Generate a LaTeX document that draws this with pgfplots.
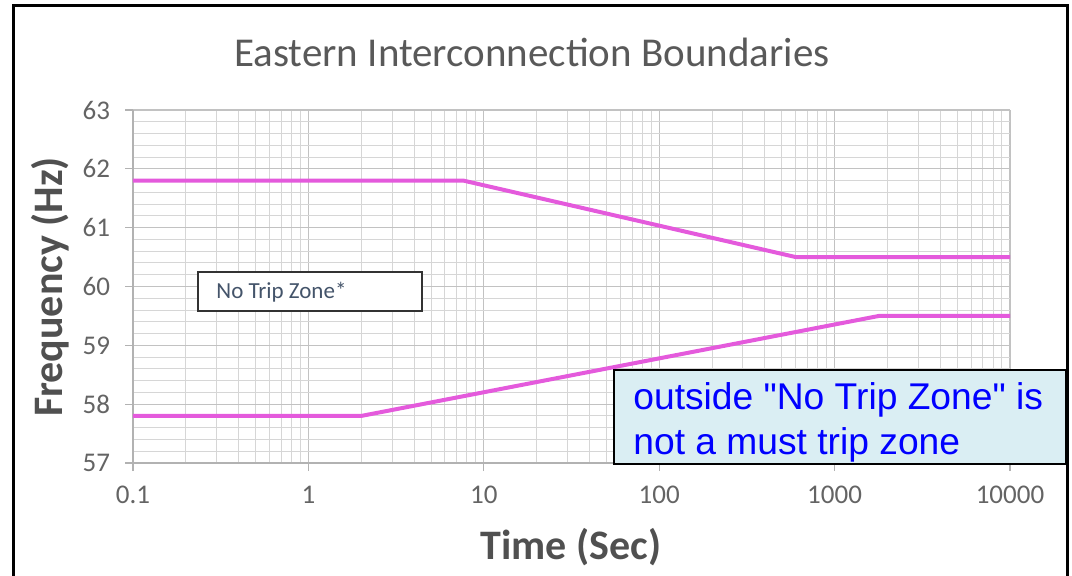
\documentclass[border=0pt]{standalone}
\usepackage{pgfplots}
\pgfplotsset{compat=1.18}
\usepackage{fontspec}
\setmainfont{Carlito}
\newfontfamily\arialfont{Liberation Sans}
\definecolor{tickgray}{RGB}{100,100,100}
\definecolor{labgray}{RGB}{80,80,80}
\definecolor{titlegray}{RGB}{89,89,89}
\definecolor{mag}{RGB}{228,90,220}
\definecolor{boxfill}{RGB}{218,238,243}
\definecolor{notrip}{RGB}{68,84,106}
\begin{document}
\begin{tikzpicture}
\path[use as bounding box] (0,0) rectangle (536pt,287.5pt);
\begin{axis}[
  at={(66.5pt,56pt)}, anchor=south west,
  scale only axis, width=438.5pt, height=176.5pt,
  xmode=log, xmin=0.1, xmax=10000, ymin=57, ymax=63,
  xtick={0.1,1,10,100,1000,10000},
  xticklabels={0.1,1,10,100,1000,10000},
  ytick={57,58,59,60,61,62,63},
  yticklabels={57,58,59,60,61,62,63},
  minor y tick num=4,
  grid=both,
  major grid style={draw=black!24, line width=0.6pt},
  minor grid style={draw=black!16, line width=0.5pt},
  axis x line*=bottom, axis y line*=left,
  axis line style={draw=black!30, -, line width=0.6pt},
  tick align=outside,
  major tick length=4pt, minor tick length=0pt,
  tick style={draw=black!30, line width=0.6pt},
  ticklabel style={font=\fontsize{13.5}{15}\selectfont, text=tickgray},
  xticklabel style={yshift=-4pt},
  yticklabel style={xshift=-4pt},
  clip=false,
]
\addplot[mag, line width=2pt] coordinates {(0.1,61.8) (7.66,61.8) (601,60.5) (10000,60.5)};
\addplot[mag, line width=2pt] coordinates {(0.1,57.8) (2,57.8) (1791,59.5) (10000,59.5)};
\end{axis}
% frame
\draw[line width=1.5pt, black] (6.5pt,-1pt) -- (6.5pt,285pt) -- (533.5pt,285pt) -- (533.5pt,-1pt);
% title
\node[text=titlegray, font=\fontsize{20.5}{22}\selectfont] at (266pt,261.5pt) {Eastern Interconnection Boundaries};
% axis labels
\node[text=labgray, font=\bfseries\fontsize{21}{23}\selectfont, rotate=90] at (25pt,144pt) {Frequency (Hz)};
\node[text=labgray, font=\bfseries\fontsize{21}{23}\selectfont] at (285.5pt,14pt) {Time (Sec)};
% no trip zone box
\draw[fill=white, draw=black!80, line width=0.7pt] (99pt,132pt) rectangle (211pt,151.5pt);
\node[anchor=west, text=notrip, font=\fontsize{11.5}{13}\selectfont, inner sep=0pt] at (108pt,141.5pt) {No Trip Zone*};
% blue box
\draw[fill=boxfill, draw=black, line width=1pt] (307pt,55.5pt) rectangle (533pt,102.5pt);
\node[anchor=base west, text=blue, font=\arialfont\fontsize{18.6}{20}\selectfont, inner sep=0pt] at (316.5pt,83pt) {outside "No Trip Zone" is};
\node[anchor=base west, text=blue, font=\arialfont\fontsize{18.6}{20}\selectfont, inner sep=0pt] at (316.5pt,60.5pt) {not a must trip zone};
\end{tikzpicture}
\end{document}
